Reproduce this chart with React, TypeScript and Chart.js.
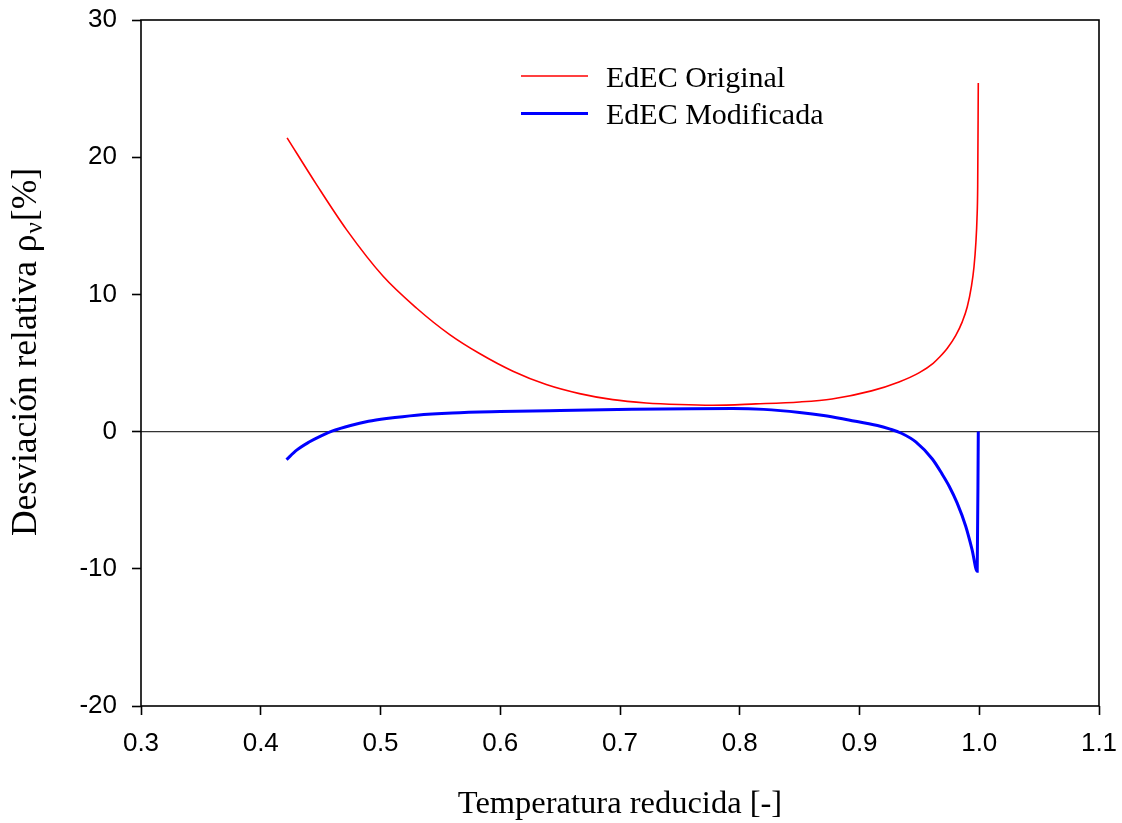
import React, { useEffect, useRef } from "react";
import { Chart, registerables } from "chart.js";

Chart.register(...registerables);

// ---- Data ----
const originalT = [
  0.422, 0.4466, 0.4716, 0.5022, 0.53, 0.5578, 0.5827, 0.6106, 0.6384, 0.6662, 0.694, 0.7218,
  0.7496, 0.7774, 0.8135, 0.85, 0.877, 0.91, 0.933, 0.95, 0.9615, 0.9665, 0.9735, 0.9803,
  0.9858, 0.99, 0.9935, 0.9956, 0.9972, 0.9981, 0.9987, 0.9992,
];
const originalDev = [
  21.41, 18.0, 14.72, 11.32, 9.01, 7.07, 5.69, 4.4, 3.43, 2.77, 2.33, 2.09,
  1.97, 1.92, 2.02, 2.16, 2.38, 2.97, 3.62, 4.3, 4.98, 5.4, 6.1, 7.0,
  8.0, 9.1, 10.6, 12.0, 13.8, 15.5, 17.9, 25.4,
];

const modifiedT = [
  0.4215, 0.43, 0.44, 0.45, 0.46, 0.475, 0.49, 0.505, 0.53, 0.56, 0.6, 0.65, 0.71, 0.76,
  0.794, 0.82, 0.85, 0.87, 0.891, 0.915, 0.925, 0.935, 0.947, 0.9608, 0.969, 0.975, 0.9815,
  0.9887, 0.994, 0.9983, 0.9992,
];
const modifiedDev = [
  -2.04, -1.35, -0.78, -0.33, 0.05, 0.45, 0.75, 0.95, 1.2, 1.36, 1.46, 1.54, 1.62, 1.67,
  1.68, 1.62, 1.4, 1.18, 0.85, 0.45, 0.2, -0.12, -0.75, -2.0, -3.1, -4.0, -5.2,
  -6.9, -8.6, -10.18, 0.0,
];

const seriesLabels = ["EdEC Original", "EdEC Modificada"];
const seriesColors = ["#ff0000", "#0000ff"];
const seriesWidths = [1.6, 3];

const xTicks = [0.3, 0.4, 0.5, 0.6, 0.7, 0.8, 0.9, 1.0, 1.1];
const yTicks = [-20, -10, 0, 10, 20, 30];

const xTitle = "Temperatura reducida [-]";
const yTitleMain = "Desviación relativa ρ";
const yTitleSub = "ν";
const yTitleEnd = "[%]";

const SERIF = "'Liberation Serif', 'Times New Roman', serif";
const SANS = "'Liberation Sans', Arial, sans-serif";

const decorPlugin = {
  id: "decor",
  beforeDatasetsDraw(chart: any) {
    const { ctx, chartArea, scales } = chart;
    const y0 = scales.y.getPixelForValue(0);
    ctx.save();
    ctx.strokeStyle = "#333333";
    ctx.lineWidth = 1.3;
    ctx.beginPath();
    ctx.moveTo(chartArea.left, y0);
    ctx.lineTo(chartArea.right, y0);
    ctx.stroke();
    ctx.restore();
  },
  afterDraw(chart: any) {
    const { ctx, chartArea } = chart;
    ctx.save();
    // frame
    ctx.strokeStyle = "#000";
    ctx.lineWidth = 1.6;
    ctx.strokeRect(chartArea.left, chartArea.top, chartArea.right - chartArea.left, chartArea.bottom - chartArea.top);

    // legend
    const lx0 = 521, lx1 = 588, tx = 606;
    const rows = [76, 113.5];
    chart.data.datasets.forEach((ds: any, i: number) => {
      ctx.strokeStyle = ds.borderColor;
      ctx.lineWidth = ds.borderWidth;
      ctx.beginPath();
      ctx.moveTo(lx0, rows[i]);
      ctx.lineTo(lx1, rows[i]);
      ctx.stroke();
      ctx.fillStyle = "#000";
      ctx.font = `30px ${SERIF}`;
      ctx.textAlign = "left";
      ctx.textBaseline = "alphabetic";
      ctx.fillText(ds.label, tx, rows[i] + 10.8);
    });

    // x title
    ctx.font = `32.5px ${SERIF}`;
    ctx.textAlign = "center";
    ctx.textBaseline = "alphabetic";
    ctx.fillStyle = "#000";
    ctx.fillText(xTitle, (chartArea.left + chartArea.right) / 2, 813);

    // y title with subscript
    ctx.translate(36, 352);
    ctx.rotate(-Math.PI / 2);
    ctx.textAlign = "left";
    const mainFont = `35.5px ${SERIF}`;
    const subFont = `25px ${SERIF}`;
    ctx.font = mainFont;
    const w1 = ctx.measureText(yTitleMain).width;
    const w3 = ctx.measureText(yTitleEnd).width;
    ctx.font = subFont;
    const w2 = ctx.measureText(yTitleSub).width;
    const total = w1 + w2 + w3 + 2;
    let x = -total / 2;
    ctx.font = mainFont;
    ctx.fillText(yTitleMain, x, 0);
    x += w1;
    ctx.font = subFont;
    ctx.fillText(yTitleSub, x + 1, 6);
    x += w2 + 2;
    ctx.font = mainFont;
    ctx.fillText(yTitleEnd, x, 0);
    ctx.restore();
  },
};

export default function App() {
  const canvasRef = useRef<HTMLCanvasElement | null>(null);

  useEffect(() => {
    document.body.style.margin = "0";
    const canvas = canvasRef.current;
    if (!canvas) return;
    const chart = new Chart(canvas, {
      type: "line",
      data: {
        datasets: [
          {
            label: seriesLabels[0],
            data: originalT.map((t, i) => ({ x: t, y: originalDev[i] })),
            borderColor: seriesColors[0],
            borderWidth: seriesWidths[0],
            pointRadius: 0,
            fill: false,
            cubicInterpolationMode: "monotone",
          },
          {
            label: seriesLabels[1],
            data: modifiedT.map((t, i) => ({ x: t, y: modifiedDev[i] })),
            borderColor: seriesColors[1],
            borderWidth: seriesWidths[1],
            pointRadius: 0,
            fill: false,
            cubicInterpolationMode: "monotone",
          },
        ],
      },
      options: {
        responsive: false,
        animation: false,
        devicePixelRatio: 1,
        layout: { padding: { left: 0, top: 20, right: 23, bottom: 0 } },
        plugins: {
          legend: { display: false },
          tooltip: { enabled: false },
          title: { display: false },
        },
        scales: {
          x: {
            type: "linear",
            min: 0.3,
            max: 1.1,
            afterFit: (s: any) => {
              s.height = 117;
              s.paddingLeft = 0;
              s.paddingRight = 0;
            },
            afterBuildTicks: (s: any) => {
              s.ticks = xTicks.map((v) => ({ value: v }));
            },
            ticks: {
              callback: (v: any) => Number(v).toFixed(1),
              color: "#000",
              font: { family: SANS, size: 26 },
              padding: 13,
              maxRotation: 0,
              autoSkip: false,
            },
            grid: {
              drawOnChartArea: false,
              drawTicks: true,
              tickLength: 9,
              tickWidth: 1.6,
              tickColor: "#000",
            },
            border: { display: false },
          },
          y: {
            type: "linear",
            min: -20,
            max: 30,
            afterFit: (s: any) => {
              s.width = 141;
              s.paddingTop = 0;
              s.paddingBottom = 0;
            },
            afterBuildTicks: (s: any) => {
              s.ticks = yTicks.map((v) => ({ value: v }));
            },
            ticks: {
              color: "#000",
              font: { family: SANS, size: 26 },
              padding: 15,
              autoSkip: false,
            },
            grid: {
              drawOnChartArea: false,
              drawTicks: true,
              tickLength: 9,
              tickWidth: 1.6,
              tickColor: "#000",
            },
            border: { display: false },
          },
        },
      },
      plugins: [decorPlugin],
    } as any);
    return () => chart.destroy();
  }, []);

  return (
    <div style={{ width: 1122, height: 823, background: "#fff" }}>
      <canvas ref={canvasRef} width={1122} height={823} style={{ display: "block" }} />
    </div>
  );
}
